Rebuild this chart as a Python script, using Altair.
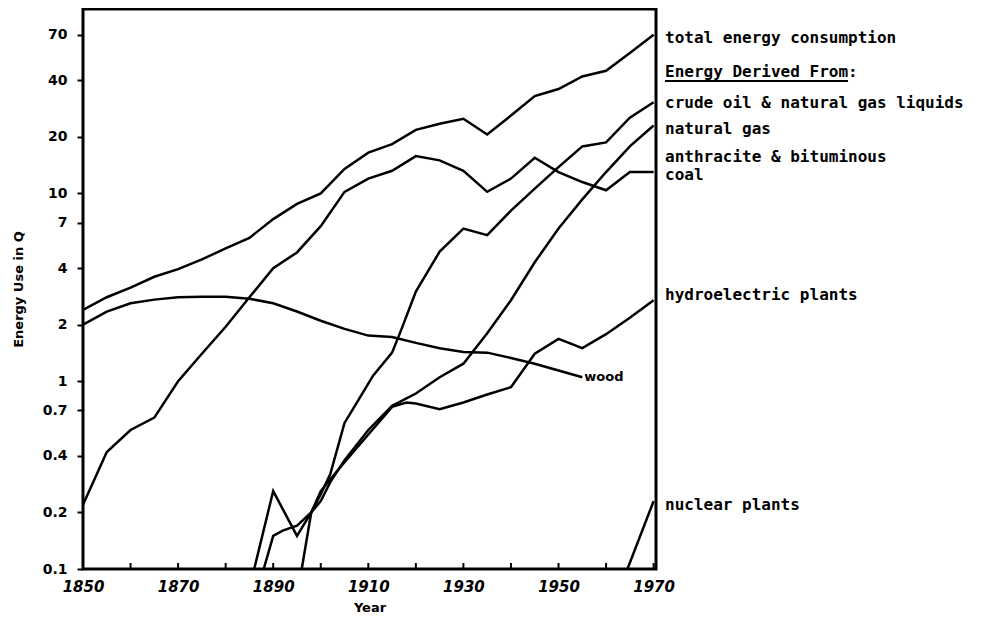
import altair as alt
import pandas as pd

# ---- data ----
total_years = [1850, 1855, 1860, 1865, 1870, 1875, 1880, 1885, 1890, 1895, 1900, 1905,
               1910, 1915, 1920, 1925, 1930, 1935, 1940, 1945, 1950, 1955, 1960, 1965, 1970]
total = [2.4, 2.8, 3.15, 3.6, 3.95, 4.45, 5.1, 5.8, 7.3, 8.8, 10, 13.5,
         16.5, 18.3, 21.8, 23.5, 25, 20.6, 26, 33, 36, 42, 45, 56, 70]

coal_years = total_years
coal = [0.22, 0.42, 0.55, 0.64, 1.0, 1.4, 1.95, 2.8, 4.0, 4.85, 6.7, 10.2,
        12, 13.2, 15.8, 15, 13.2, 10.2, 12, 15.5, 13, 11.5, 10.4, 13, 13]

wood_years = [1850, 1855, 1860, 1865, 1870, 1875, 1880, 1885, 1890, 1895, 1900, 1905,
              1910, 1915, 1920, 1925, 1930, 1935, 1940, 1945, 1950, 1955]
wood = [2.0, 2.35, 2.6, 2.72, 2.8, 2.82, 2.82, 2.75, 2.6, 2.35, 2.1, 1.9,
        1.75, 1.72, 1.6, 1.5, 1.43, 1.42, 1.33, 1.24, 1.14, 1.05]

crude_years = [1888, 1890, 1892, 1895, 1898, 1900, 1902, 1905, 1908, 1911, 1915, 1917,
               1920, 1925, 1930, 1935, 1940, 1945, 1950, 1955, 1960, 1965, 1970]
crude = [0.1, 0.15, 0.16, 0.17, 0.2, 0.25, 0.32, 0.6, 0.8, 1.07, 1.42, 1.9,
         3.0, 4.9, 6.5, 6.0, 8.1, 10.6, 13.8, 17.8, 18.7, 25.3, 30.6]

natgas_years = [1886, 1890, 1895, 1898, 1900, 1902, 1905, 1910, 1915, 1920, 1925, 1930,
                1935, 1940, 1945, 1950, 1955, 1960, 1965, 1970]
natgas = [0.1, 0.26, 0.15, 0.2, 0.23, 0.29, 0.38, 0.55, 0.74, 0.86, 1.05, 1.24,
          1.8, 2.7, 4.3, 6.5, 9.3, 13, 17.8, 23]

hydro_years = [1896, 1898, 1900, 1902, 1905, 1910, 1915, 1918, 1920, 1925, 1930, 1935,
               1940, 1945, 1950, 1955, 1960, 1965, 1970]
hydro = [0.1, 0.2, 0.26, 0.3, 0.37, 0.52, 0.73, 0.77, 0.76, 0.71, 0.77, 0.85,
         0.93, 1.4, 1.68, 1.5, 1.78, 2.18, 2.7]

nuclear_years = [1964.5, 1970]
nuclear = [0.1, 0.23]

right_labels = ["total energy consumption", "Energy Derived From:",
                "crude oil & natural gas liquids", "natural gas",
                "anthracite & bituminous", "coal",
                "hydroelectric plants", "nuclear plants"]
right_label_values = [67.2, 44.3, 30.3, 22.0, 15.6, 12.5, 2.88, 0.219]
underlined_text = "Energy Derived From"

y_tick_values = [0.1, 0.2, 0.4, 0.7, 1, 2, 4, 7, 10, 20, 40, 70]
x_label_values = [1850, 1870, 1890, 1910, 1930, 1950, 1970]
x_tick_years = [1860, 1870, 1880, 1890, 1900, 1910, 1920, 1930, 1940, 1950, 1960, 1970]

# ---- tables ----
series = [
    ("total", total_years, total),
    ("coal", coal_years, coal),
    ("wood", wood_years, wood),
    ("crude", crude_years, crude),
    ("natgas", natgas_years, natgas),
    ("hydro", hydro_years, hydro),
    ("nuclear", nuclear_years, nuclear),
]
rows = []
for name, ys, vs in series:
    for yr, v in zip(ys, vs):
        rows.append({"series": name, "year": yr, "value": v})
df = pd.DataFrame(rows)

X_END = 1970.5
labels_df = pd.DataFrame({"label": right_labels, "value": right_label_values,
                          "year": [X_END] * len(right_labels)})
under_df = pd.DataFrame({"value": [right_label_values[1]]})
wood_df = pd.DataFrame({"label": ["wood"], "year": [wood_years[-1]], "value": [wood[-1]]})
ticks_df = pd.DataFrame({"year": x_tick_years})

W, H = 573, 560
LABEL_DX = 9
FS = 16
CHAR_W = 0.602 * FS
xs = alt.Scale(domain=[1850, X_END], nice=False, zero=False)
ys_ = alt.Scale(type="log", domain=[0.1, 96], nice=False)

MONO = "DejaVu Sans Mono"
SANS = "DejaVu Sans"

x_axis = alt.Axis(values=x_label_values, format="d", title="Year", ticks=False, domain=False,
                  grid=False, labelFont=SANS, labelFontSize=15, labelFontWeight="bold",
                  labelFontStyle="italic", labelColor="black", labelPadding=10,
                  titleFont=SANS, titleFontSize=13, titleFontWeight="bold", titleColor="black",
                  titleX=W / 2, titleY=38, titleBaseline="middle", labelFlush=False)
y_axis = alt.Axis(values=y_tick_values, format="~g", title="Energy Use in Q", domain=False,
                  grid=False, tickSize=6, tickWidth=2, tickColor="black",
                  labelFont=SANS, labelFontSize=14, labelFontWeight="bold", labelColor="black",
                  labelPadding=10, labelFlush=False,
                  titleFont=SANS, titleFontSize=13, titleFontWeight="bold", titleColor="black",
                  titleX=-65, titleY=H / 2, titleBaseline="middle", titleAngle=270)

lines = alt.Chart(df).mark_line(color="black", strokeWidth=2.5, clip=True).encode(
    x=alt.X("year:Q", scale=xs, axis=x_axis),
    y=alt.Y("value:Q", scale=ys_, axis=y_axis),
    detail="series:N",
)

xticks = alt.Chart(ticks_df).mark_rule(color="black", strokeWidth=2).encode(
    x=alt.X("year:Q", scale=xs),
    y=alt.value(H),
    y2=alt.value(H - 6),
)

labels = alt.Chart(labels_df).mark_text(
    align="left", baseline="middle", dx=LABEL_DX, font=MONO, fontSize=FS, fontWeight="bold",
    color="black").encode(
    x=alt.X("year:Q", scale=xs),
    y=alt.Y("value:Q", scale=ys_),
    text="label:N",
)

underline = alt.Chart(under_df).mark_rule(color="black", strokeWidth=2, yOffset=9).encode(
    x=alt.value(W + LABEL_DX),
    x2=alt.value(W + LABEL_DX + CHAR_W * len(underlined_text)),
    y=alt.Y("value:Q", scale=ys_),
)

wood_label = alt.Chart(wood_df).mark_text(
    align="left", baseline="middle", dx=2, font=SANS, fontSize=13, fontWeight="bold",
    color="black").encode(
    x=alt.X("year:Q", scale=xs),
    y=alt.Y("value:Q", scale=ys_),
    text="label:N",
)

chart = alt.layer(lines, xticks, labels, underline, wood_label).properties(
    width=W, height=H,
    padding={"left": 75, "top": 1, "right": 320, "bottom": 46},
    autosize=alt.AutoSizeParams(type="none"),
    background="white",
).configure_view(stroke="black", strokeWidth=3)

chart.save("out.html", embed_options={"renderer": "svg", "actions": False})
